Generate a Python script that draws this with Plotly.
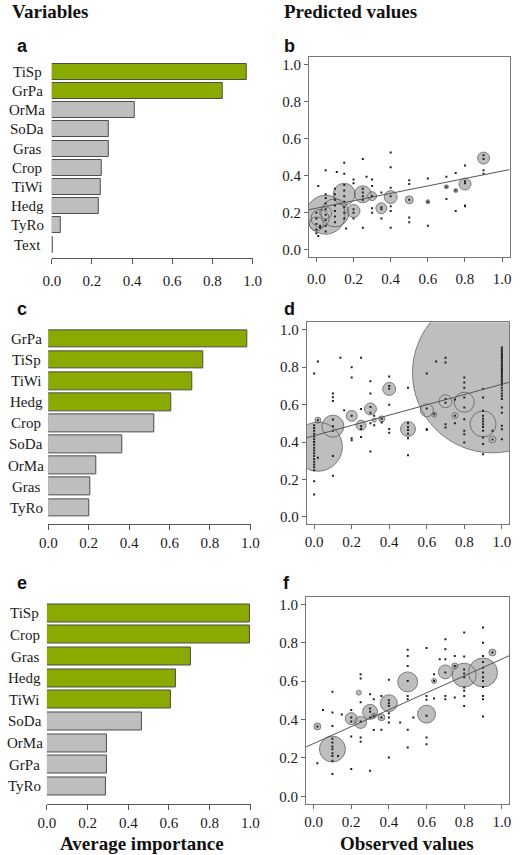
import plotly.graph_objects as go

W, H = 520, 855

# ---------------- bar data ----------------
vars_a = ["TiSp", "GrPa", "OrMa", "SoDa", "Gras", "Crop", "TiWi", "Hedg", "TyRo", "Text"]
imp_a = [0.973, 0.853, 0.415, 0.282, 0.282, 0.248, 0.245, 0.232, 0.046, 0.004]
sel_a = [1, 1, 0, 0, 0, 0, 0, 0, 0, 0]

vars_c = ["GrPa", "TiSp", "TiWi", "Hedg", "Crop", "SoDa", "OrMa", "Gras", "TyRo"]
imp_c = [0.984, 0.769, 0.713, 0.610, 0.525, 0.368, 0.236, 0.207, 0.204]
sel_c = [1, 1, 1, 1, 0, 0, 0, 0, 0]

vars_e = ["TiSp", "Crop", "Gras", "Hedg", "TiWi", "SoDa", "OrMa", "GrPa", "TyRo"]
imp_e = [1.0, 1.0, 0.710, 0.636, 0.612, 0.465, 0.297, 0.296, 0.291]
sel_e = [1, 1, 1, 1, 1, 0, 0, 0, 0]

# ---------------- scatter data ----------------
# bubbles: x, y, diameter (px)
b_bx = [0.05, 0.10, 0.15, 0.02, 0.00, 0.25, 0.20, 0.40, 0.80, 0.90, 0.35, 0.30, 0.05, 0.50, 0.60, 0.70, 0.75]
b_by = [0.19, 0.20, 0.30, 0.17, 0.14, 0.30, 0.21, 0.285, 0.355, 0.495, 0.225, 0.29, 0.20, 0.27, 0.26, 0.34, 0.32]
b_bs = [39, 28, 22, 18, 14, 17, 13, 13, 12, 12, 11, 9, 12, 8, 4, 4, 4]

d_bx = [0.95, 0.02, 0.90, 0.10, 0.80, 0.50, 0.40, 0.60, 0.70, 0.30, 0.20, 0.25, 0.95, 0.02, 0.36, 0.75, 0.64, 0.32]
d_by = [0.77, 0.375, 0.497, 0.485, 0.613, 0.47, 0.684, 0.57, 0.618, 0.577, 0.54, 0.49, 0.414, 0.517, 0.524, 0.542, 0.547, 0.517]
d_bs = [160, 49, 26, 22, 20, 15, 13, 13, 13, 12, 11, 10, 7, 6, 6, 6, 5, 4]

f_bx = [0.90, 0.10, 0.80, 0.50, 0.60, 0.40, 0.30, 0.70, 0.20, 0.25, 0.02, 0.36, 0.95, 0.75, 0.24, 0.64, 0.32]
f_by = [0.645, 0.246, 0.631, 0.596, 0.428, 0.485, 0.44, 0.648, 0.405, 0.385, 0.364, 0.412, 0.749, 0.679, 0.54, 0.601, 0.42]
f_bs = [29, 26, 24, 20, 18, 17, 15, 14, 12, 12, 7, 7, 7, 6, 5, 5, 5]

# individual observations: observed value -> predicted values
b_dots = {
    0.00: [0.11, 0.09, 0.20, 0.17, 0.14],
    0.01: [0.345, 0.075],
    0.02: [0.12, 0.13],
    0.05: [0.43, 0.30, 0.28, 0.25, 0.22, 0.19, 0.16, 0.13, 0.10],
    0.10: [0.33, 0.30, 0.27, 0.24, 0.21, 0.18, 0.15],
    0.11: [0.42],
    0.15: [0.47, 0.41, 0.35, 0.32, 0.29, 0.26, 0.23, 0.20, 0.17],
    0.16: [0.115],
    0.20: [0.38, 0.36, 0.22, 0.20, 0.17],
    0.25: [0.49, 0.33, 0.31, 0.29, 0.27, 0.12],
    0.27: [0.395],
    0.30: [0.38, 0.345, 0.29, 0.225, 0.20],
    0.35: [0.31, 0.23, 0.22, 0.17],
    0.40: [0.525, 0.445, 0.335, 0.29, 0.235, 0.21, 0.12],
    0.50: [0.375, 0.355, 0.27, 0.175, 0.15],
    0.60: [0.385, 0.26, 0.13],
    0.70: [0.395, 0.34, 0.275],
    0.75: [0.415, 0.32, 0.21],
    0.80: [0.455, 0.37, 0.36, 0.24, 0.235],
    0.90: [0.51, 0.49, 0.43, 0.41],
}
d_dots = {
    0.00: [0.766, 0.49, 0.475, 0.46, 0.445, 0.43, 0.415, 0.40, 0.385, 0.37, 0.355, 0.34,
           0.325, 0.31, 0.295, 0.28, 0.265, 0.25, 0.19, 0.12],
    0.02: [0.83, 0.517, 0.316],
    0.10: [0.66, 0.64, 0.62, 0.52, 0.485, 0.46, 0.325, 0.22],
    0.14: [0.85],
    0.16: [0.57],
    0.20: [0.80, 0.745, 0.54, 0.42, 0.41],
    0.25: [0.85, 0.577, 0.485, 0.47, 0.427],
    0.30: [0.725, 0.66, 0.587, 0.556, 0.50, 0.35],
    0.32: [0.54, 0.49],
    0.36: [0.524, 0.505],
    0.40: [0.75, 0.70, 0.685, 0.60, 0.47, 0.45],
    0.50: [0.69, 0.50, 0.48, 0.465, 0.445, 0.42, 0.33],
    0.60: [0.766, 0.58, 0.47, 0.465],
    0.64: [0.549],
    0.65: [0.83],
    0.70: [0.85, 0.825, 0.63, 0.61, 0.495, 0.478],
    0.75: [0.627, 0.54, 0.50],
    0.80: [0.745, 0.718, 0.69, 0.638, 0.585, 0.522, 0.46, 0.442, 0.398],
    0.90: [0.683, 0.638, 0.567, 0.54, 0.525, 0.51, 0.495, 0.48, 0.46, 0.424, 0.389, 0.335],
    0.95: [0.46, 0.414],
    1.00: [0.905, 0.895, 0.885, 0.875, 0.865, 0.855, 0.845, 0.835, 0.825, 0.815, 0.805,
           0.795, 0.785, 0.775, 0.765, 0.755, 0.745, 0.735, 0.725, 0.715, 0.705, 0.69,
           0.675, 0.66, 0.645, 0.63, 0.585, 0.557, 0.487, 0.469, 0.415],
}
f_dots = {
    0.02: [0.364, 0.173],
    0.05: [0.45],
    0.10: [0.545, 0.437, 0.367, 0.30, 0.28, 0.26, 0.245, 0.225, 0.21, 0.185, 0.116],
    0.13: [0.21],
    0.15: [0.426],
    0.20: [0.45, 0.41, 0.39, 0.312, 0.142],
    0.25: [0.636, 0.613, 0.49, 0.39, 0.307, 0.284],
    0.30: [0.532, 0.458, 0.44, 0.41, 0.133],
    0.32: [0.506, 0.42, 0.345],
    0.36: [0.523, 0.41, 0.347],
    0.40: [0.607, 0.50, 0.485, 0.47, 0.433, 0.41, 0.385, 0.203],
    0.46: [0.385],
    0.50: [0.763, 0.731, 0.679, 0.60, 0.523, 0.506, 0.347, 0.255],
    0.53: [0.41],
    0.60: [0.773, 0.523, 0.503, 0.42, 0.307, 0.272],
    0.64: [0.636, 0.601, 0.51],
    0.67: [0.714],
    0.70: [0.818, 0.766, 0.714, 0.645, 0.523, 0.506],
    0.75: [0.731, 0.679, 0.515],
    0.80: [0.853, 0.728, 0.66, 0.64, 0.62, 0.567, 0.55, 0.523, 0.471],
    0.90: [0.879, 0.80, 0.731, 0.70, 0.67, 0.645, 0.62, 0.60, 0.57, 0.523, 0.506, 0.416],
    0.95: [0.749],
}

# fitted regression lines: (intercept, slope)
fit_b = (0.225, 0.20)
fit_d = (0.434, 0.275)
fit_f = (0.275, 0.44)

# ---------------- styling ----------------
GREEN = "#8BAA00"
GRAY = "#BEBEBE"
EDGE = "#4D4D4D"
SERIF = "Liberation Serif"
SANS = "Liberation Sans"
TICKFONT = dict(family=SERIF, size=15, color="#1a1a1a")


def xd(p0, p1):
    return [p0 / W, p1 / W]


def yd(top, bottom):
    return [1 - bottom / H, 1 - top / H]


fig = go.Figure()

bar_panels = [
    # names, values, selected, axis suffix, x domain px, y domain px, y range, label x, standoff
    (vars_a, imp_a, sel_a, "", (44.3, 253.1), (62.1, 258), (-0.675, 9.5), 19, 4),
    (vars_c, imp_c, sel_c, "3", (40.7, 250.8), (328.75, 525), (-0.79, 8.5), 18, 0),
    (vars_e, imp_e, sel_e, "5", (39.3, 250.8), (603.2, 805), (-0.817, 8.5), 16.5, 0),
]

annotations = []
layout_axes = {}

for names, vals, sel, sfx, xdom, ydom, yr, lx, so in bar_panels:
    n = len(names)
    ys = list(reversed(names))
    xs = list(reversed(vals))
    cols = [GREEN if s else GRAY for s in reversed(sel)]
    fig.add_trace(go.Bar(
        x=xs, y=ys, orientation="h", width=0.833,
        marker=dict(color=cols, line=dict(color=EDGE, width=1)),
        xaxis="x" + sfx, yaxis="y" + sfx, showlegend=False, hoverinfo="skip",
    ))
    layout_axes["xaxis" + sfx] = dict(
        domain=xd(*xdom), range=[0, 1.004], anchor="y" + sfx,
        tickmode="linear", tick0=0, dtick=0.2, tickformat=".1f",
        ticks="outside", ticklen=5, tickcolor="#555", tickwidth=1,
        showline=True, linecolor="#555", linewidth=1,
        showgrid=False, zeroline=False, tickfont=TICKFONT, ticklabelstandoff=so,
    )
    layout_axes["yaxis" + sfx] = dict(
        domain=yd(*ydom), range=list(yr), anchor="x" + sfx, type="category",
        showticklabels=False, showline=False, ticks="", showgrid=False, zeroline=False,
    )
    for i, name in enumerate(names):
        annotations.append(dict(
            text=name, xref="paper", x=lx / W, yref="y" + sfx, y=n - 1 - i,
            xanchor="center", yanchor="middle", showarrow=False,
            font=dict(family=SERIF, size=15, color="#1a1a1a"),
        ))


def flatten(dots):
    xs, ys = [], []
    for xv, yl in dots.items():
        for yv in yl:
            xs.append(xv)
            ys.append(yv)
    return xs, ys


scatter_panels = [
    (b_bx, b_by, b_bs, b_dots, fit_b, "2", (310.7, 518.5), (57, 257.7), 4),
    (d_bx, d_by, d_bs, d_dots, fit_d, "4", (308.3, 518.3), (322.7, 525), 0),
    (f_bx, f_by, f_bs, f_dots, fit_f, "6", (307.7, 518.3), (597.3, 805), 0),
]

for bx, by, bs, dots, fit, sfx, xdom, ydom, so in scatter_panels:
    ax = dict(xaxis="x" + sfx, yaxis="y" + sfx, showlegend=False, hoverinfo="skip")
    fig.add_trace(go.Scatter(
        x=bx, y=by, mode="markers", cliponaxis=True,
        marker=dict(size=bs, color=GRAY, opacity=1, line=dict(width=0)), **ax))
    fig.add_trace(go.Scatter(
        x=bx, y=by, mode="markers", cliponaxis=True,
        marker=dict(size=bs, color="rgba(0,0,0,0)", line=dict(color="#555", width=1)), **ax))
    dx, dy = flatten(dots)
    fig.add_trace(go.Scatter(
        x=dx, y=dy, mode="markers", cliponaxis=True,
        marker=dict(size=2, color="#222", symbol="square", line=dict(width=0)), **ax))
    a0, b0 = fit
    lx = [-0.04, 1.04]
    fig.add_trace(go.Scatter(
        x=lx, y=[a0 + b0 * v for v in lx], mode="lines", cliponaxis=True,
        line=dict(color="#555", width=1), **ax))
    common = dict(
        range=[-0.04, 1.04], tickmode="linear", tick0=0, dtick=0.2, tickformat=".1f",
        ticks="outside", ticklen=4, tickcolor="#666", tickwidth=1,
        showline=True, linecolor="#777", linewidth=1, mirror=True,
        showgrid=False, zeroline=False, tickfont=TICKFONT,
    )
    layout_axes["xaxis" + sfx] = dict(domain=xd(*xdom), anchor="y" + sfx, ticklabelstandoff=so, **common)
    layout_axes["yaxis" + sfx] = dict(domain=yd(*ydom), anchor="x" + sfx, **common)


def txt(text, px, py, size, family, xanchor="left", yanchor="middle", bold=True, pad=1):
    annotations.append(dict(
        text=f"<b>{text}</b>" if bold else text, xref="paper", yref="paper",
        x=px / W, y=1 - py / H, xanchor=xanchor, yanchor=yanchor, showarrow=False,
        borderpad=pad, font=dict(family=family, size=size, color="#111"),
    ))


txt("Variables", 2, 0, 19, SERIF, yanchor="top", pad=0)
txt("Predicted values", 284, 0, 19, SERIF, yanchor="top", pad=0)
txt("Average importance", 138, 844.5, 19, SERIF, xanchor="center")
txt("Observed values", 412.5, 844.5, 19, SERIF, xanchor="center")
txt("a", 5.7, 46.3, 18, SANS)
txt("b", 282.3, 46.3, 18, SANS)
txt("c", 5.7, 309.6, 18, SANS)
txt("d", 282.3, 309.6, 18, SANS)
txt("e", 5.7, 583.6, 18, SANS)
txt("f", 281.7, 583.6, 18, SANS)

fig.update_layout(
    width=W, height=H, margin=dict(l=0, r=0, t=0, b=0),
    paper_bgcolor="white", plot_bgcolor="white",
    annotations=annotations, bargap=0, **layout_axes,
)

fig.write_html(
    "out.html",
    config={"displayModeBar": False},
    post_script="document.body.style.margin='0';document.body.style.overflow='hidden';",
)
